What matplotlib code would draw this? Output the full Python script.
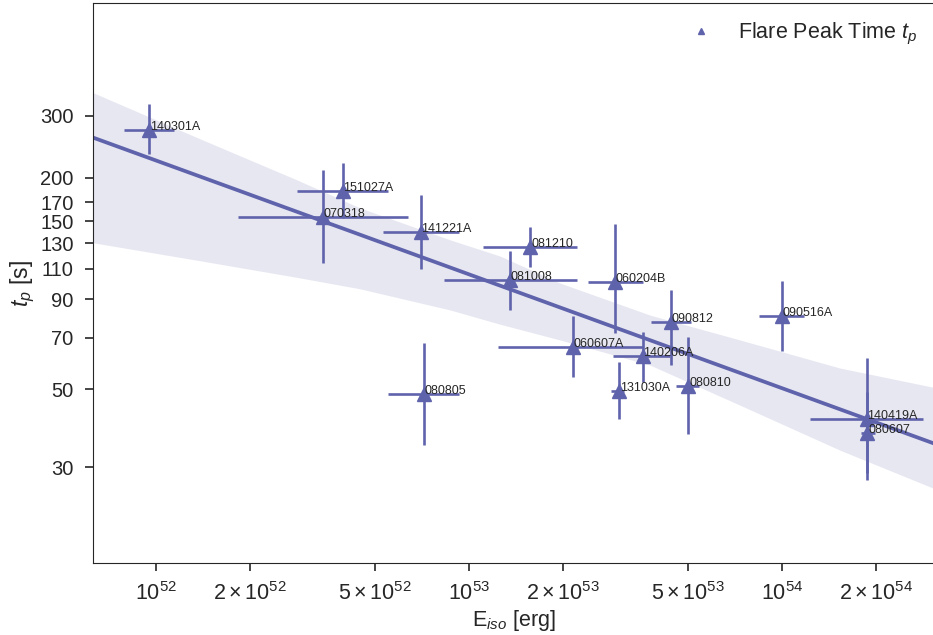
import matplotlib
matplotlib.use("Agg")
import matplotlib.pyplot as plt
from matplotlib.lines import Line2D
from matplotlib.ticker import NullLocator
import numpy as np
import seaborn as sns

# GRB flare sample: isotropic energy vs flare peak time
grb_names = ["140301A", "151027A", "070318", "141221A", "081210", "081008",
             "060204B", "090812", "060607A", "140206A", "131030A", "080810",
             "090516A", "140419A", "080607", "080805"]
e_iso = [9.5e51, 3.95e52, 3.41e52, 7.01e52, 1.57e53, 1.35e53,
         2.93e53, 4.42e53, 2.145e53, 3.59e53, 3.01e53, 5.02e53,
         1.0e54, 1.865e54, 1.873e54, 7.18e52]
e_err_lo = [1.6e51, 1.12e52, 1.58e52, 1.71e52, 4.6e52, 5.2e52,
            5.3e52, 6.0e52, 9.1e52, 7.0e52, 1.7e52, 4.35e52,
            1.54e53, 6.36e53, 8.9e52, 1.66e52]
e_err_hi = [1.9e51, 1.57e52, 2.99e52, 2.30e52, 6.4e52, 8.6e52,
            6.6e52, 6.9e52, 1.45e53, 8.0e52, 1.2e52, 4.2e52,
            1.78e53, 9.5e53, 1.09e53, 2.13e52]
t_peak = [274, 183, 154, 140, 127, 102, 101, 77.4, 66, 62.1, 49.5, 51,
          80.7, 41.1, 37.6, 48.5]
t_err_lo = [41, 30, 40, 30, 15.5, 18, 29, 19, 11.8, 9.6, 8.5, 13.8,
            16.5, 12.3, 10, 13.9]
t_err_hi = [50, 37, 56, 38, 18, 22, 47, 18.4, 14.7, 10.7, 10.3, 19.2,
            20.8, 20.3, 11.5, 19.3]

# confidence band of the power-law fit
band_e = [6.29e51, 1.38e52, 2.82e52, 4.48e52, 8.70e52, 1.256e53, 1.953e53,
          3.79e53, 7.34e53, 1.532e54, 3.08e54]
band_hi = [349, 258, 197, 164, 133, 119.6, 100.2, 81.2, 69.0, 57.4, 50.5]
band_lo = [130.5, 116.0, 104.0, 96.5, 84.0, 76.5, 69.0, 58.5, 45.0, 33.5, 26.0]

x_ticks = [1e52, 2e52, 5e52, 1e53, 2e53, 5e53, 1e54, 2e54]
x_ticklabels = [r"$\mathdefault{10^{52}}$", r"$\mathdefault{2\times10^{52}}$",
                r"$\mathdefault{5\times10^{52}}$", r"$\mathdefault{10^{53}}$",
                r"$\mathdefault{2\times10^{53}}$", r"$\mathdefault{5\times10^{53}}$",
                r"$\mathdefault{10^{54}}$", r"$\mathdefault{2\times10^{54}}$"]
y_ticks = [30, 50, 70, 90, 110, 130, 150, 170, 200, 300]

sns.set_style("ticks")
plt.rcParams["font.family"] = ["Liberation Sans", "DejaVu Sans"]
plt.rcParams["mathtext.fontset"] = "custom"
plt.rcParams["mathtext.rm"] = "Liberation Sans"
plt.rcParams["mathtext.it"] = "Liberation Sans:italic"

color = "#5f63ab"
xlim = (6.29e51, 3.08e54)

fig = plt.figure(figsize=(9.33, 6.35), dpi=100)
ax = fig.add_axes([0.0997, 0.1134, 0.9025, 0.8811])

# power-law fit in log-log space
slope, icpt = np.polyfit(np.log10(e_iso), np.log10(t_peak), 1)
fit_x = np.logspace(np.log10(xlim[0]), np.log10(xlim[1]), 100)
fit_y = 10 ** (icpt + slope * np.log10(fit_x))

ax.fill_between(band_e, band_lo, band_hi, color=color, alpha=0.15,
                linewidth=0, zorder=1)
ax.plot(fit_x, fit_y, color=color, linewidth=2.7, zorder=2)

ax.errorbar(e_iso, t_peak,
            xerr=[e_err_lo, e_err_hi], yerr=[t_err_lo, t_err_hi],
            fmt="^", color=color, ecolor=color, elinewidth=1.9,
            markersize=9.5, capsize=0, zorder=3)

for name, e, t in zip(grb_names, e_iso, t_peak):
    ax.text(e * 1.005, t, name, fontsize=9, color=".15",
            ha="left", va="baseline", zorder=4)

ax.set_xscale("log")
ax.set_yscale("log")
ax.set_xlim(*xlim)
ax.set_ylim(16, 626)

ax.set_xticks(x_ticks)
ax.set_xticklabels(x_ticklabels)
ax.xaxis.set_minor_locator(NullLocator())
ax.set_yticks(y_ticks)
ax.set_yticklabels([str(v) for v in y_ticks])
ax.yaxis.set_minor_locator(NullLocator())
ax.tick_params(length=6, width=1.2, colors=".15", pad=8)
ax.tick_params(axis="x", labelsize=15.5)
ax.tick_params(axis="y", labelsize=14.5)

ax.set_xlabel(r"E$_{iso}$ [erg]", fontsize=15.5, color=".15", labelpad=2)
ax.set_ylabel(r"$t_p$ [s]", fontsize=16.5, color=".15", labelpad=2)

handle = Line2D([], [], marker="^", linestyle="none", color=color,
                markersize=4.5)
ax.legend([handle], [r"Flare Peak Time $t_p$"], loc="upper right",
          frameon=False, fontsize=15.5, handletextpad=0.75,
          borderaxespad=0.4)

fig.savefig("out.png", dpi=100)
